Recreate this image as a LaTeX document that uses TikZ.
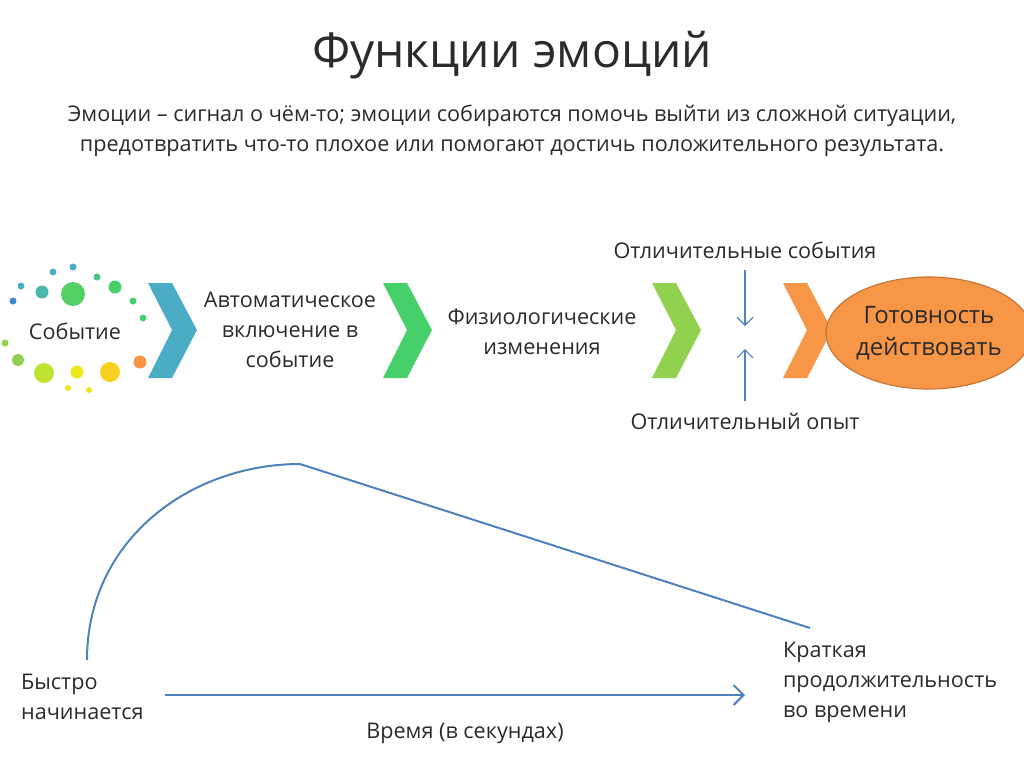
\documentclass[tikz,border=0pt]{standalone}
\usepackage{fontspec}
\setmainfont{Open Sans}
\usetikzlibrary{positioning, shapes.geometric, arrows.meta}
\definecolor{txtgray}{HTML}{2B2B2B}
\definecolor{chblue}{HTML}{4BACC6}
\definecolor{chgreen}{HTML}{45D06A}
\definecolor{chlime}{HTML}{92D050}
\definecolor{chorange}{HTML}{F79646}
\definecolor{linblue}{HTML}{4F81BD}

\begin{document}
\begin{tikzpicture}[
        x=0.5pt, y=-0.5pt,
        every node/.style={text=txtgray, align=center, font=\fontsize{10.8}{15}\selectfont},
        chevron/.style={draw=none},
        dot/.style={draw=none},
        arrow/.style={-{Straight Barb[length=4pt]}, linblue, line width=0.6pt},
        curveline/.style={linblue, line width=1pt}
    ]
    \useasboundingbox (0,0) rectangle (1024,767);

    % Title
    \node[font=\fontsize{24}{28}\selectfont] (title) at (512,55) {Функции эмоций};
    \node (sub1) at (512,116) {Эмоции -- сигнал о чём-то; эмоции собираются помочь выйти из сложной ситуации,};
    \node (sub2) at (512,148) {предотвратить что-то плохое или помогают достичь положительного результата.};

    % Dots around the event
    \foreach \px/\py/\r/\c in {73/267/3.5/chblue, 53/272/3.5/chblue, 97/277/3.5/chgreen!70!chblue,
        21/286/3.5/chblue, 13/301/3.5/chblue!80!blue, 42/292/6.5/chblue!70!chgreen, 73/294/12/chgreen!80!chlime,
        115/287/6.5/chgreen, 133/301/3.5/chgreen, 143/318/3.5/chgreen, 5/343/3.5/chlime,
        18/360/6/chlime, 44/373/10/chlime!60!yellow, 77/372/6.5/yellow!80!chlime, 110/372/10/yellow!60!chorange,
        140/362/6.5/chorange, 68/388/3/yellow!80!chlime, 89/390/3/yellow!80!chlime}
        \fill[dot, \c] (\px,\py) circle[radius=\r];

    % Chevrons
    \foreach \cx/\c in {148/chblue, 383/chgreen, 652/chlime, 783/chorange}
        \fill[chevron, \c] (\cx,283) -- ++(24,0) -- ++(25,47) -- ++(-25,48) -- ++(-24,0) -- ++(24,-48) -- cycle;

    % Steps
    \node (event) at (75,331) {Событие};
    \node (auto) at (290,330) {Автоматическое\\включение в\\событие};
    \node (phys) at (542,332) {Физиологические\\изменения};
    \node[ellipse, fill=chorange, draw=chorange!80!black, line width=0.6pt, font=\fontsize{12}{16}\selectfont,
          minimum width=91pt, minimum height=56pt, inner sep=0pt] (ready) at (929,333) {Готовность\\действовать};

    \node (events) at (745,250) {Отличительные события};
    \node (exper) at (745,421) {Отличительный опыт};
    \coordinate (downend) at (745,326);
    \coordinate (upend) at (745,349);
    \draw[arrow] (events.south |- 0,270) -- (downend);
    \draw[arrow] (exper.north |- 0,401) -- (upend);

    % Time course
    \coordinate (start) at (87,660);
    \coordinate (peak) at (300,464);
    \coordinate (tail) at (810,628);
    \draw[curveline] (start) .. controls (87,540) and (190,464) .. (peak) -- (tail);

    \node[align=left, anchor=west] (fast) at (14,697) {Быстро\\начинается};
    \node[align=left, anchor=west] (brief) at (776,682) {Краткая\\продолжительность\\во времени};
    \coordinate (axisstart) at (165,695);
    \coordinate (axisend) at (745,695);
    \draw[-{Straight Barb[length=5pt]}, linblue, line width=1pt] (axisstart) -- (axisend);
    \node (time) at (465,733) {Время (в секундах)};
\end{tikzpicture}
\end{document}
